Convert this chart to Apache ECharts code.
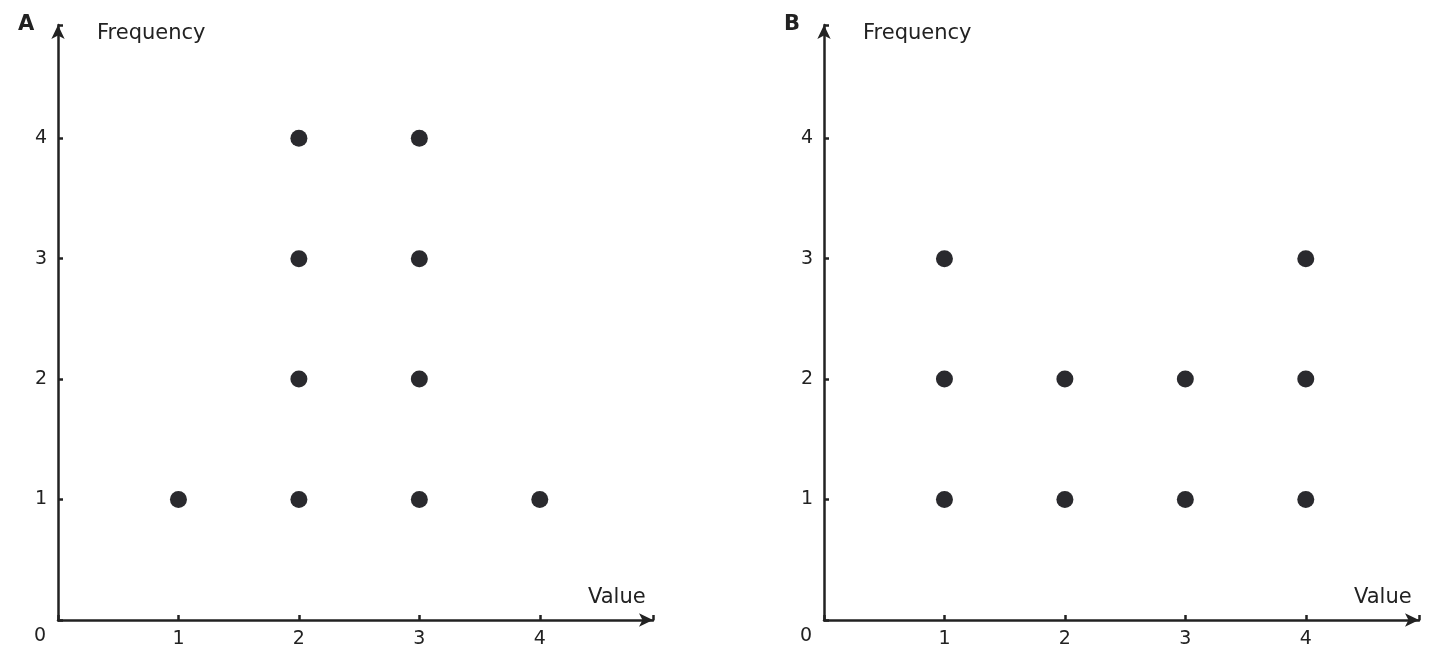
<!DOCTYPE html>
<html><head><meta charset="utf-8">
<script src="https://cdn.jsdelivr.net/npm/echarts@6/dist/echarts.min.js"></script>
<style>html,body{margin:0;padding:0;background:#fff}#c{width:1444px;height:668px}</style>
</head><body><div id="c"></div>
<script>
var xTicks = [1, 2, 3, 4];
var yTicks = [1, 2, 3, 4];
var dotsA = [[1,1],[2,1],[2,2],[2,3],[2,4],[3,1],[3,2],[3,3],[3,4],[4,1]];
var dotsB = [[1,1],[1,2],[1,3],[2,1],[2,2],[3,1],[3,2],[4,1],[4,2],[4,3]];
var panelLabels = ['A', 'B'];
var xName = 'Value', yName = 'Frequency';
var C = '#222';
var F = 'DejaVu Sans';
function ax(type, idx) {
  return {
    type: 'value', gridIndex: idx, min: 0, max: 4.94, interval: 1,
    axisLine: {show: true, onZero: false, symbol: ['none','arrow'], symbolSize: [10,14], lineStyle: {color: C, width: 2.5}},
    axisTick: {show: true, inside: true, length: 5, lineStyle: {color: C, width: 2.5}},
    axisLabel: {color: C, fontSize: 19, fontFamily: F, margin: type === 'x' ? 10 : 11,
      formatter: function (v) { return (v === 0 || v > 4.5) ? '' : String(v); }},
    splitLine: {show: false}
  };
}
function txt(l, t, s, font) { return {type: 'text', left: l, top: t, style: {text: s, font: font, fill: C}}; }
var option = {
  animation: false,
  grid: [
    {left: 58, top: 25, width: 595, height: 595},
    {left: 824, top: 25, width: 595, height: 595}
  ],
  xAxis: [ax('x', 0), ax('x', 1)],
  yAxis: [ax('y', 0), ax('y', 1)],
  series: [
    {type: 'scatter', xAxisIndex: 0, yAxisIndex: 0, data: dotsA, symbolSize: 17, itemStyle: {color: '#2a2a2e', opacity: 1}},
    {type: 'scatter', xAxisIndex: 1, yAxisIndex: 1, data: dotsB, symbolSize: 17, itemStyle: {color: '#2a2a2e', opacity: 1}}
  ],
  graphic: [
    txt(18, 14, panelLabels[0], 'bold 21px "DejaVu Sans"'),
    txt(784, 14, panelLabels[1], 'bold 21px "DejaVu Sans"'),
    txt(97, 23, yName, '21px "DejaVu Sans"'),
    txt(863, 23, yName, '21px "DejaVu Sans"'),
    txt(588, 587, xName, '21px "DejaVu Sans"'),
    txt(1354, 587, xName, '21px "DejaVu Sans"'),
    txt(34, 627, '0', '19px "DejaVu Sans"'),
    txt(800, 627, '0', '19px "DejaVu Sans"')
  ]
};
echarts.init(document.getElementById('c')).setOption(option);
</script></body></html>
